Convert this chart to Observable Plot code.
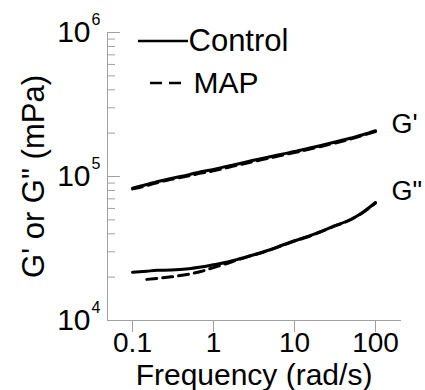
<!DOCTYPE html>
<html><head><meta charset="utf-8">
<script src="https://cdn.jsdelivr.net/npm/d3@7"></script>
<script src="https://cdn.jsdelivr.net/npm/@observablehq/plot@0.6"></script>
<style>body{margin:0;background:#fff} svg{font-family:"Liberation Sans",Arial,sans-serif}</style>
</head><body><div id="chart"></div><script>
const freq = [0.1,0.15,0.2,0.3,0.5,0.7,1,1.5,2,3,5,7,10,15,20,30,50,70,100];
const GpControl = [83000,88000,92000,97000,103000,108000,112000,118000,122000,129000,137000,143000,149000,157000,163000,172000,185000,195000,208000];
const GpMAP = [82000,86500,90500,95500,101000,105500,109500,115500,120000,126500,134500,140500,146500,154500,160500,169500,182500,193000,205000];
const GppControl = [21600,22000,22300,22400,22900,23500,24400,25500,26600,28400,31000,33300,35800,38500,41000,45000,50500,56500,66000];
const GppMAP = [null,19300,19600,20100,21000,21900,23300,25000,26400,28300,30900,33100,35600,38300,40800,44800,50300,56300,65500];
const xTicks = [0.1,1,10,100];
const yMajor = [1e4,1e5,1e6];
const yMinor = [2e4,3e4,4e4,5e4,6e4,7e4,8e4,9e4,2e5,3e5,4e5,5e5,6e5,7e5,8e5,9e5];
const curveLabels = ["G'", "G\""];
const legendLabels = ["Control", "MAP"];

const series = [
  {group:"Control", mod:"G'", values:GpControl},
  {group:"MAP", mod:"G'", values:GpMAP},
  {group:"Control", mod:"G\"", values:GppControl},
  {group:"MAP", mod:"G\"", values:GppMAP}
];
const rows = [];
series.forEach(s => s.values.forEach((v,i) => { if (v != null) rows.push({f:freq[i], v, group:s.group, mod:s.mod, id:s.group+s.mod}); }));
const ends = rows.filter(r => r.group === "Control" && r.f === freq[freq.length-1]);

const chart = Plot.plot({
  width:425, height:390,
  marginLeft:107, marginRight:25, marginTop:32, marginBottom:70,
  style:{fontFamily:'"Liberation Sans",Arial,sans-serif', color:"#000", background:"#fff", overflow:"visible"},
  x:{type:"log", domain:[0.0491,203.6]},
  y:{type:"log", domain:[1e4,1e6]},
  marks:[
    Plot.frame({anchor:"left", stroke:"#a0a0a0"}),
    Plot.frame({anchor:"bottom", stroke:"#a0a0a0"}),
    Plot.axisX(xTicks, {tickSize:12, tickPadding:0, fontSize:28, tickFormat:d => String(d), stroke:"#a0a0a0", fill:"#000", label:null}),
    Plot.axisY(yMajor, {tickSize:-13, tickFormat:() => "", stroke:"#a0a0a0", label:null}),
    Plot.axisY(yMinor, {tickSize:-8, tickFormat:() => "", stroke:"#a0a0a0", label:null}),
    Plot.text(yMajor, {y:d => d, frameAnchor:"left", text:() => "10", dx:-17, textAnchor:"end", fontSize:30, fill:"#000"}),
    Plot.text(yMajor, {y:d => d, frameAnchor:"left", text:d => String(Math.round(Math.log10(d))), dx:-16, dy:-13, textAnchor:"start", fontSize:16, fill:"#000"}),
    Plot.text(["Frequency (rad/s)"], {frameAnchor:"bottom", dy:55, textAnchor:"middle", lineAnchor:"middle", fontSize:30, fill:"#000"}),
    Plot.text(["G' or G\" (mPa)"], {frameAnchor:"left", rotate:-90, dx:-73, textAnchor:"middle", lineAnchor:"middle", fontSize:31, fill:"#000"}),
    Plot.line(rows.filter(r => r.group === "Control"), {x:"f", y:"v", z:"id", stroke:"#000", strokeWidth:3, curve:"monotone-x"}),
    Plot.line(rows.filter(r => r.group === "MAP"), {x:"f", y:"v", z:"id", stroke:"#000", strokeWidth:3, strokeDasharray:"10,6", curve:"monotone-x"}),
    Plot.text(ends.filter(r => r.mod === "G'"), {x:"f", y:"v", text:() => curveLabels[0], dx:16, dy:-6, textAnchor:"start", lineAnchor:"middle", fontSize:27, fill:"#000"}),
    Plot.text(ends.filter(r => r.mod === "G\""), {x:"f", y:"v", text:() => curveLabels[1], dx:16, dy:-11, textAnchor:"start", lineAnchor:"middle", fontSize:27, fill:"#000"}),
    Plot.text([legendLabels[0]], {frameAnchor:"top-left", dx:81, dy:9, textAnchor:"start", lineAnchor:"middle", fontSize:31, fill:"#000"}),
    Plot.text([legendLabels[1]], {frameAnchor:"top-left", dx:86, dy:51, textAnchor:"start", lineAnchor:"middle", fontSize:30, fill:"#000"})
  ]
});
document.getElementById("chart").appendChild(chart);
const svg = d3.select(chart);
svg.append("line").attr("x1",138).attr("x2",188).attr("y1",41).attr("y2",41).attr("stroke","#000").attr("stroke-width",2.5);
svg.append("line").attr("x1",150).attr("x2",188).attr("y1",83).attr("y2",83).attr("stroke","#000").attr("stroke-width",2.5).attr("stroke-dasharray","12,7");
</script></body></html>
